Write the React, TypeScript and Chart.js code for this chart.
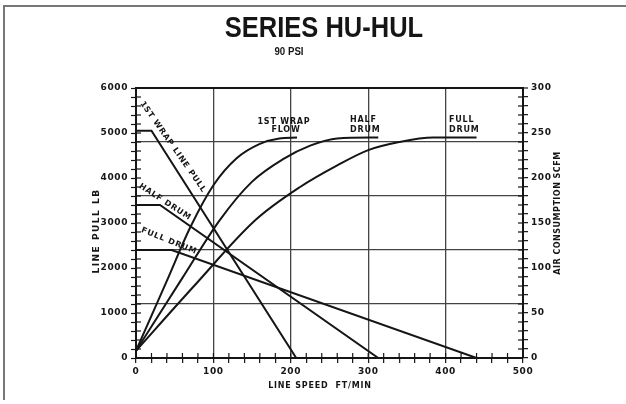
import React, { useEffect, useRef } from 'react';
import { Chart, registerables } from 'chart.js';

Chart.register(...registerables);

// ---- data (line speed ft/min vs line pull lb / air consumption scfm) ----
const wrapPullX = [0, 20, 207];
const wrapPullLb = [5050, 5050, 0];
const halfPullX = [0, 31, 313];
const halfPullLb = [3400, 3400, 0];
const fullPullX = [0, 46, 440];
const fullPullLb = [2400, 2400, 0];

const wrapFlowX = [0, 40, 70, 100, 130, 160, 185, 208];
const wrapFlowScfm = [8, 86, 145, 192, 222, 238, 244, 245];
const halfFlowX = [0, 60, 108, 150, 190, 225, 260, 313];
const halfFlowScfm = [8, 89, 153, 196, 221, 236, 244, 245];
const fullFlowX = [0, 75, 154, 212, 260, 300, 340, 384, 440];
const fullFlowScfm = [8, 80, 153, 190, 214, 231, 240, 245, 245];

const titleText = 'SERIES HU-HUL';
const subtitleText = '90 PSI';
const xTitle = 'LINE SPEED  FT/MIN';
const yLeftTitle = 'LINE PULL LB';
const yRightTitle = 'AIR CONSUMPTION SCFM';
const pullLabels = ['1ST WRAP LINE PULL', 'HALF DRUM', 'FULL DRUM'];
const flowLabels = [['1ST WRAP', 'FLOW'], ['HALF', 'DRUM'], ['FULL', 'DRUM']];

const pts = (xs: number[], ys: number[]) => xs.map((x, i) => ({ x, y: ys[i] }));

const INK = '#151515';
const LETTER = '"DejaVu Sans", sans-serif';

const decorPlugin = {
  id: 'decor',
  beforeDraw(chart: any) {
    const ctx = chart.ctx;
    ctx.fillStyle = '#fff';
    ctx.fillRect(0, 0, chart.width, chart.height);
    ctx.letterSpacing = '0.6px';
  },
  afterDraw(chart: any) {
    const ctx = chart.ctx;
    const area = chart.chartArea;
    ctx.save();
    // inner halves of the cross ticks
    ctx.strokeStyle = INK;
    ctx.lineWidth = 1.2;
    const sx = chart.scales.x;
    sx.ticks.forEach((t: any) => {
      const p = sx.getPixelForValue(t.value);
      ctx.beginPath();
      ctx.moveTo(p, area.bottom);
      ctx.lineTo(p, area.bottom - 5);
      ctx.stroke();
    });
    const sy = chart.scales.y;
    sy.ticks.forEach((t: any) => {
      const p = sy.getPixelForValue(t.value);
      ctx.beginPath();
      ctx.moveTo(area.left, p);
      ctx.lineTo(area.left + 5, p);
      ctx.stroke();
    });
    const sr = chart.scales.y1;
    sr.ticks.forEach((t: any) => {
      const p = sr.getPixelForValue(t.value);
      ctx.beginPath();
      ctx.moveTo(area.right, p);
      ctx.lineTo(area.right - 5, p);
      ctx.stroke();
    });

    // frame
    ctx.strokeStyle = '#777';
    ctx.lineWidth = 2;
    ctx.beginPath();
    ctx.moveTo(4, 400);
    ctx.lineTo(4, 6);
    ctx.lineTo(626, 6);
    ctx.stroke();

    ctx.fillStyle = INK;
    // title
    ctx.letterSpacing = '0px';
    ctx.save();
    ctx.translate(324, 37);
    ctx.scale(0.85, 1);
    ctx.font = 'bold 30px "Liberation Sans", Arial, sans-serif';
    ctx.textAlign = 'center';
    ctx.textBaseline = 'alphabetic';
    ctx.fillText(titleText, 0, 0);
    ctx.restore();
    ctx.save();
    ctx.translate(289, 55);
    ctx.scale(0.88, 1);
    ctx.font = 'bold 11px "Liberation Sans", Arial, sans-serif';
    ctx.textAlign = 'center';
    ctx.fillText(subtitleText, 0, 0);
    ctx.restore();

    // lettering
    ctx.textBaseline = 'middle';
    ctx.textAlign = 'center';
    const rot = (txt: string, x: number, y: number, deg: number) => {
      ctx.save();
      ctx.translate(x, y);
      ctx.rotate((deg * Math.PI) / 180);
      ctx.fillText(txt, 0, 0);
      ctx.restore();
    };
    ctx.font = `bold 9px ${LETTER}`;
    ctx.letterSpacing = '1.5px';
    rot(yLeftTitle, 97, 231, -90);
    ctx.font = `bold 8px ${LETTER}`;
    ctx.letterSpacing = '0.5px';
    rot(yRightTitle, 558, 213, -90);
    ctx.letterSpacing = '0.8px';
    rot(xTitle, 320, 386, 0);
    rot(pullLabels[0], 173, 147, 55);
    rot(pullLabels[1], 165, 202, 33);
    rot(pullLabels[2], 169, 241, 22);

    ctx.fillText(flowLabels[0][0], 284, 122);
    ctx.fillText(flowLabels[0][1], 286, 130);
    ctx.textAlign = 'left';
    ctx.fillText(flowLabels[1][0], 350, 120);
    ctx.fillText(flowLabels[1][1], 350, 130);
    ctx.fillText(flowLabels[2][0], 449, 120);
    ctx.fillText(flowLabels[2][1], 449, 130);
    ctx.restore();
    ctx.letterSpacing = '0px';
  },
};

export default function App() {
  const ref = useRef<HTMLCanvasElement | null>(null);
  useEffect(() => {
    document.body.style.margin = '0';
    const canvas = ref.current;
    if (!canvas) return;
    const tickFont = { family: LETTER, size: 9, weight: 'bold' as const };
    const lineDs = (data: any[], axis: string, smooth: boolean) => ({
      data,
      yAxisID: axis,
      borderColor: INK,
      borderWidth: 2,
      pointRadius: 0,
      fill: false,
      tension: smooth ? 0.4 : 0,
      cubicInterpolationMode: smooth ? ('monotone' as const) : ('default' as const),
    });
    const chart = new Chart(canvas, {
      type: 'line',
      data: {
        datasets: [
          lineDs(pts(wrapPullX, wrapPullLb), 'y', false),
          lineDs(pts(halfPullX, halfPullLb), 'y', false),
          lineDs(pts(fullPullX, fullPullLb), 'y', false),
          lineDs(pts(wrapFlowX, wrapFlowScfm), 'y1', true),
          lineDs(pts(halfFlowX, halfFlowScfm), 'y1', true),
          lineDs(pts(fullFlowX, fullFlowScfm), 'y1', true),
        ],
      },
      options: {
        responsive: false,
        animation: false,
        events: [],
        layout: { padding: { top: 88, left: 0, right: 0, bottom: 0 } },
        plugins: { legend: { display: false }, tooltip: { enabled: false }, title: { display: false } },
        scales: {
          x: {
            type: 'linear',
            position: 'bottom',
            min: 0,
            max: 500,
            ticks: {
              stepSize: 20,
              autoSkip: false,
              maxRotation: 0,
              padding: 3,
              color: INK,
              font: tickFont,
              callback: (v: any) => (Number(v) % 100 === 0 ? String(v) : ''),
            },
            grid: {
              color: (c: any) => {
                const v = c.tick ? c.tick.value : 0;
                return v % 100 === 0 && v > 0 && v < 500 ? '#444' : 'rgba(0,0,0,0)';
              },
              lineWidth: 1.3,
              tickColor: INK,
              tickLength: 5,
              tickWidth: 1.2,
            },
            border: { color: INK, width: 2 },
            afterFit: (s: any) => {
              s.height = 46;
            },
          },
          y: {
            type: 'linear',
            position: 'left',
            min: 0,
            max: 6000,
            ticks: {
              stepSize: 200,
              autoSkip: false,
              padding: 3,
              color: INK,
              font: tickFont,
              callback: (v: any) => (Number(v) % 1000 === 0 ? String(v) : ''),
            },
            grid: { drawOnChartArea: false, tickColor: INK, tickLength: 5, tickWidth: 1.2 },
            border: { color: INK, width: 2 },
            afterFit: (s: any) => {
              s.width = 136;
            },
          },
          y1: {
            type: 'linear',
            position: 'right',
            min: 0,
            max: 300,
            ticks: {
              stepSize: 10,
              autoSkip: false,
              padding: 3,
              color: INK,
              font: tickFont,
              callback: (v: any) => (Number(v) % 50 === 0 ? String(v) : ''),
            },
            grid: {
              drawOnChartArea: true,
              color: (c: any) => {
                const v = c.tick ? c.tick.value : 0;
                if (v === 300) return INK;
                return v % 60 === 0 && v > 0 ? '#444' : 'rgba(0,0,0,0)';
              },
              lineWidth: (c: any) => (c.tick && c.tick.value === 300 ? 2 : 1.3),
              tickColor: INK,
              tickLength: 5,
              tickWidth: 1.2,
            },
            border: { color: INK, width: 2 },
            afterFit: (s: any) => {
              s.width = 103;
            },
          },
        },
      } as any,
      plugins: [decorPlugin],
    });
    return () => chart.destroy();
  }, []);
  return (
    <div style={{ position: 'absolute', left: 0, top: 0, width: 626, height: 404 }}>
      <canvas ref={ref} width={626} height={404} style={{ display: 'block' }} />
    </div>
  );
}
